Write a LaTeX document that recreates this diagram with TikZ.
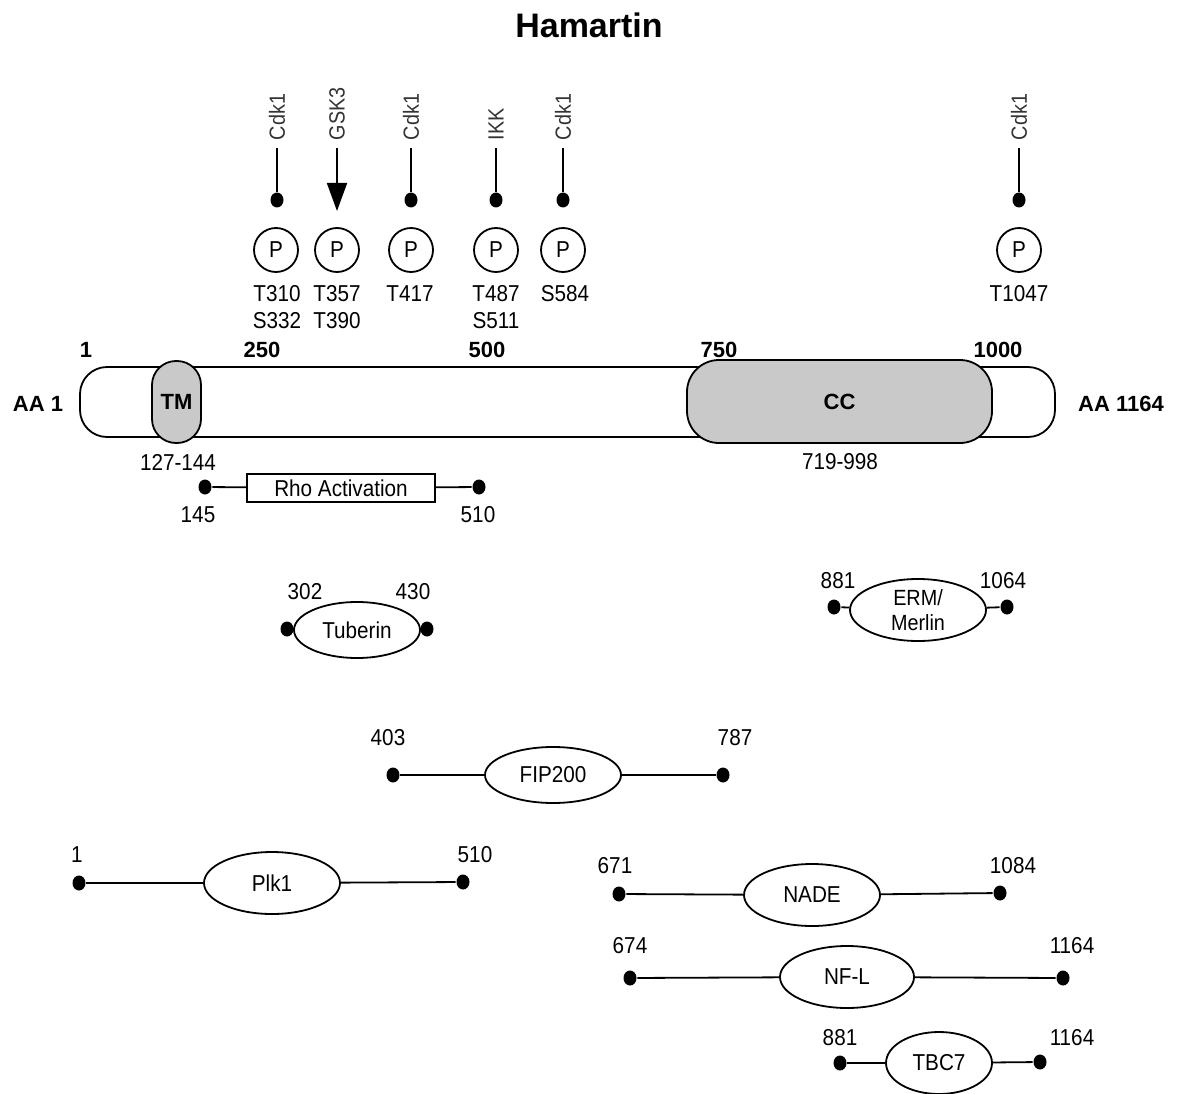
\documentclass[tikz,border=0pt]{standalone}
\usepackage{fontspec}
\setmainfont{Liberation Sans}
\newfontfamily\nfont[FakeStretch=0.9]{Liberation Sans}
\usetikzlibrary{shapes.geometric,arrows.meta}
\begin{document}
\begin{tikzpicture}[x=1pt,y=-1pt, line width=1.8pt,
 dot/.style={ellipse, fill=black, minimum width=13, minimum height=15, inner sep=0},
 pcirc/.style={circle, draw, minimum size=44, inner sep=0, font=\fontsize{23}{23}\selectfont\nfont},
 kin/.style={rotate=90, anchor=west, inner sep=7, font=\fontsize{22}{22}\selectfont\nfont, text=black!80},
 lbl/.style={font=\fontsize{23}{27}\selectfont\nfont, inner sep=0, align=center},
 num/.style={font=\fontsize{22}{22}\selectfont\bfseries, inner sep=0},
 prot/.style={ellipse, draw, inner sep=0, font=\fontsize{23}{26}\selectfont\nfont, align=center},
 domainbox/.style={draw, fill=black!21, inner sep=0, font=\fontsize{22}{22}\selectfont\bfseries}]
\useasboundingbox (0,0) rectangle (1180,1094);

% title
\node[font=\fontsize{34}{34}\selectfont\bfseries] (title) at (589,25) {Hamartin};

% kinases
\node[kin] (k1) at (277,148) {Cdk1};
\node[kin] (k2) at (337,148) {GSK3};
\node[kin] (k3) at (411,148) {Cdk1};
\node[kin] (k4) at (496,148) {IKK};
\node[kin] (k5) at (563,148) {Cdk1};
\node[kin] (k6) at (1019,148) {Cdk1};
\node[dot] (d1) at (277,200) {};
\coordinate (a2) at (337,211);
\node[dot] (d3) at (411,200) {};
\node[dot] (d4) at (496,200) {};
\node[dot] (d5) at (563,200) {};
\node[dot] (d6) at (1019,200) {};
\draw (k1.west) -- (d1);
\draw[-{Triangle[width=20,length=28]}] (k2.west) -- (a2);
\draw (k3.west) -- (d3);
\draw (k4.west) -- (d4);
\draw (k5.west) -- (d5);
\draw (k6.west) -- (d6);

% phospho sites
\node[pcirc] (p1) at (276,250) {P};
\node[pcirc] (p2) at (337,250) {P};
\node[pcirc] (p3) at (411,250) {P};
\node[pcirc] (p4) at (496,250) {P};
\node[pcirc] (p5) at (563,250) {P};
\node[pcirc] (p6) at (1019,250) {P};
\node[lbl, anchor=north] (s1) at (277,285) {T310\\S332};
\node[lbl, anchor=north] (s2) at (337,285) {T357\\T390};
\node[lbl, anchor=north] (s3) at (410,285) {T417};
\node[lbl, anchor=north] (s4) at (496,285) {T487\\S511};
\node[lbl, anchor=north] (s5) at (565,285) {S584};
\node[lbl, anchor=north] (s6) at (1019,285) {T1047};

% scale numbers
\node[num] (n1) at (86,350) {1};
\node[num] (n250) at (262,350) {250};
\node[num] (n500) at (487,350) {500};
\node[num] (n750) at (719,350) {750};
\node[num] (n1000) at (998,350) {1000};

% main bar
\node[draw, rounded corners=27, minimum width=975, minimum height=70, inner sep=0] (bar) at (567.5,402) {};
\node[domainbox, rounded corners=24, minimum width=49, minimum height=82] (tm) at (176.5,402) {TM};
\node[domainbox, rounded corners=32, minimum width=305, minimum height=83] (cc) at (839.5,401.5) {CC};
\node[num] (aa1) at (38,404) {AA 1};
\node[num] (aa2) at (1121,404) {AA 1164};
\node[lbl] (tmr) at (178,462) {127-144};
\node[lbl] (ccr) at (840,462) {719-998};

% Rho activation
\node[dot] (r1) at (205,487) {};
\node[dot] (r2) at (479,487) {};
\node[draw, minimum width=188, minimum height=28, inner sep=0, font=\fontsize{23}{23}\selectfont\nfont] (rho) at (341,488) {Rho Activation};
\draw (r1) -- (rho);
\draw (rho) -- (r2);
\node[lbl] (r1l) at (198,515) {145};
\node[lbl] (r2l) at (478,515) {510};

% Tuberin
\node[prot, minimum width=126, minimum height=56] (tub) at (357,630) {Tuberin};
\node[dot] (t1) at (287,629) {};
\node[dot] (t2) at (427,629) {};
\draw (t1) -- (tub);
\draw (tub) -- (t2);
\node[lbl] (t1l) at (305,592) {302};
\node[lbl] (t2l) at (413,592) {430};

% ERM/Merlin
\node[prot, minimum width=136, minimum height=62, font=\fontsize{22}{25}\selectfont\nfont] (erm) at (918,610) {ERM/\\Merlin};
\node[dot] (e1) at (834,607) {};
\node[dot] (e2) at (1007,607) {};
\draw (e1) -- (erm);
\draw (erm) -- (e2);
\node[lbl] (e1l) at (838,581) {881};
\node[lbl] (e2l) at (1003,581) {1064};

% FIP200
\node[prot, minimum width=136, minimum height=56] (fip) at (553,775) {FIP200};
\node[dot] (f1) at (393,775) {};
\node[dot] (f2) at (723,775) {};
\draw (f1) -- (fip);
\draw (fip) -- (f2);
\node[lbl] (f1l) at (388,738) {403};
\node[lbl] (f2l) at (735,738) {787};

% Plk1
\node[prot, minimum width=136, minimum height=62] (plk) at (272,883) {Plk1};
\node[dot] (pl1) at (79,883) {};
\node[dot] (pl2) at (463,882) {};
\draw (pl1) -- (plk);
\draw (plk) -- (pl2);
\node[lbl] (pl1l) at (77,855) {1};
\node[lbl] (pl2l) at (475,855) {510};

% NADE
\node[prot, minimum width=136, minimum height=62] (nade) at (812,895) {NADE};
\node[dot] (na1) at (619,894) {};
\node[dot] (na2) at (1000,893) {};
\draw (na1) -- (nade);
\draw (nade) -- (na2);
\node[lbl] (na1l) at (615,866) {671};
\node[lbl] (na2l) at (1013,866) {1084};

% NF-L
\node[prot, minimum width=134, minimum height=62] (nfl) at (847,977) {NF-L};
\node[dot] (nf1) at (630,978) {};
\node[dot] (nf2) at (1063,978) {};
\draw (nf1) -- (nfl);
\draw (nfl) -- (nf2);
\node[lbl] (nf1l) at (630,946) {674};
\node[lbl] (nf2l) at (1072,946) {1164};

% TBC7
\node[prot, minimum width=106, minimum height=62] (tbc) at (939,1063) {TBC7};
\node[dot] (tb1) at (840,1063) {};
\node[dot] (tb2) at (1040,1062) {};
\draw (tb1) -- (tbc);
\draw (tbc) -- (tb2);
\node[lbl] (tb1l) at (840,1038) {881};
\node[lbl] (tb2l) at (1072,1038) {1164};
\end{tikzpicture}
\end{document}
